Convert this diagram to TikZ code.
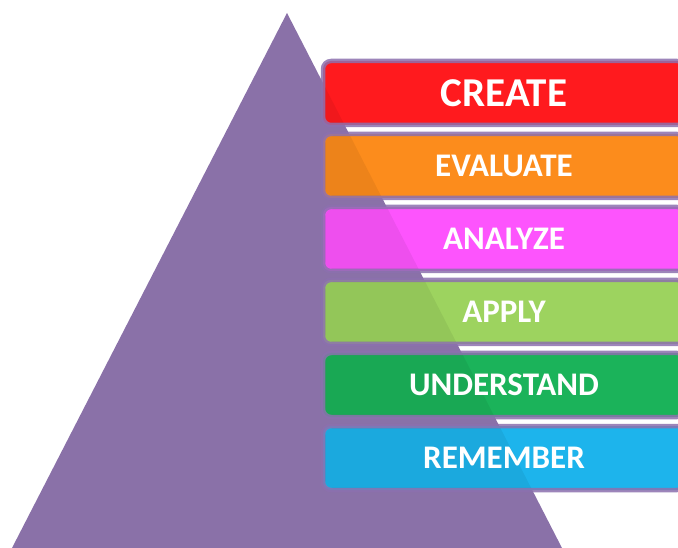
\documentclass[tikz,border=0pt]{standalone}
\usepackage{fontspec}
\setmainfont{Carlito}
\definecolor{tri}{HTML}{8A71A8}
\definecolor{edge}{HTML}{8C70AE}
\definecolor{cCreate}{HTML}{FF1A1E}
\definecolor{cEval}{HTML}{FC8C1C}
\definecolor{cAnal}{HTML}{FD54FD}
\definecolor{cApply}{HTML}{9DD35F}
\definecolor{cUnder}{HTML}{1BB35A}
\definecolor{cRem}{HTML}{1DB4EC}
\tikzset{
  bar/.style={rectangle, rounded corners=8pt, minimum width=362pt, minimum height=64pt,
    inner sep=0pt, outer sep=0pt, draw=edge, draw opacity=0.85, line width=4.5pt},
  lbl/.style={text=white, font=\bfseries\fontsize{33}{33}\selectfont, inner sep=0pt},
  lblbig/.style={text=white, font=\bfseries\fontsize{41}{41}\selectfont, inner sep=0pt},
  shade/.style={fill=black, fill opacity=0.06, rounded corners=8pt}
}
\begin{document}
\begin{tikzpicture}[x=1pt,y=-1pt]
\useasboundingbox (0,0) rectangle (678,548);
\clip (0,0) rectangle (678,548);
\fill[tri] (12,548) -- (287,13) -- (562,548) -- cycle;
\node[bar, fill=cCreate] (create) at (504,93) {};
\node[bar, fill=cEval]   (eval)   at (504,166) {};
\node[bar, fill=cAnal]   (anal)   at (504,239) {};
\node[bar, fill=cApply]  (apply)  at (504,312) {};
\node[bar, fill=cUnder]  (under)  at (504,385) {};
\node[bar, fill=cRem]    (rem)    at (504,458) {};
\begin{scope}
\clip (12,548) -- (287,13) -- (562,548) -- cycle;
\foreach \b in {create,eval,anal,apply,under,rem}{
  \fill[shade] ([shift={(2pt,-2pt)}]\b.north west) rectangle ([shift={(-2pt,2pt)}]\b.south east);
}
\end{scope}
\node[lblbig] (tcreate) at (create) {CREATE};
\node[lbl] (teval)  at (eval)  {EVALUATE};
\node[lbl] (tanal)  at (anal)  {ANALYZE};
\node[lbl] (tapply) at (apply) {APPLY};
\node[lbl] (tunder) at (under) {UNDERSTAND};
\node[lbl] (trem)   at (rem)   {REMEMBER};
\end{tikzpicture}
\end{document}
